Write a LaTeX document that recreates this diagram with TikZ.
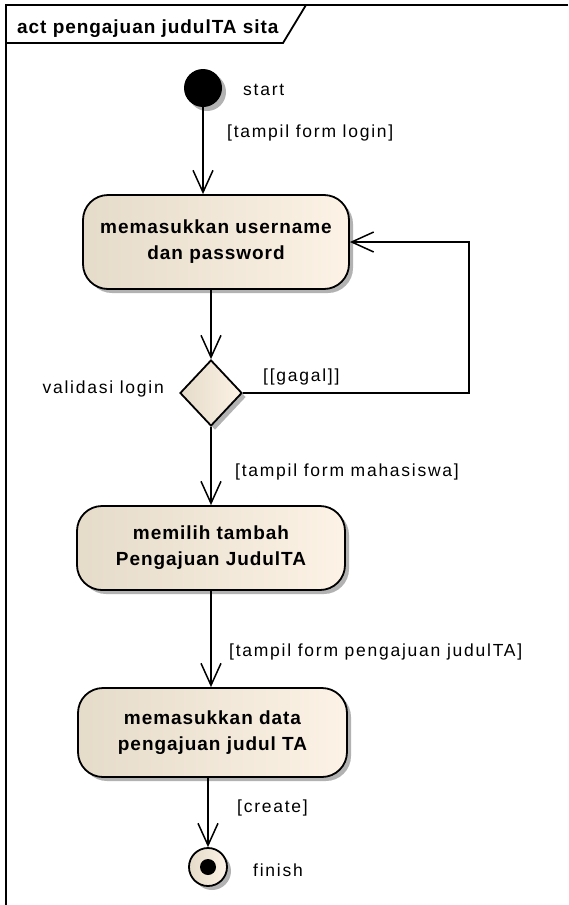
\documentclass[tikz,border=0pt]{standalone}
\usepackage{fontspec}
\setmainfont{Liberation Sans}
\newfontfamily\labelfont[LetterSpace=10]{Liberation Sans}
\newfontfamily\actfont[LetterSpace=5]{Liberation Sans}
\usetikzlibrary{arrows.meta}
\usetikzlibrary{shapes.geometric}
\usetikzlibrary{shadows}
\definecolor{mbeige}{rgb}{0.90, 0.86, 0.79}
\definecolor{mcream}{rgb}{0.99, 0.95, 0.90}
\definecolor{mshadow}{rgb}{0.70, 0.70, 0.70}
\tikzset{
  shade/.style = {drop shadow={shadow xshift=4pt, shadow yshift=-4pt, fill=mshadow, opacity=1}},
  frame/.style = {line width=1.8pt},
  act/.style = {draw, line width=1.8pt, rounded corners=25pt, left color=mbeige, right color=mcream, shade,
    align=center, inner sep=0, font=\actfont\bfseries\fontsize{19}{26}\selectfont},
  decision/.style = {draw, diamond, line width=1.8pt, left color=mbeige, right color=mcream, shade,
    inner sep=0, minimum width=62pt, minimum height=66pt},
  startnode/.style = {fill, circle, inner sep=0, minimum size=38pt, shade},
  finishnode/.style = {draw, circle, line width=1.8pt, inner sep=0, minimum size=38pt, left color=mbeige, right color=mcream, shade},
  lbl/.style = {inner sep=0, font=\labelfont\fontsize{17.5}{20}\selectfont},
  flow/.style = {-{Straight Barb[length=22pt, width=20pt]}, line width=1.5pt}
}

\begin{document}
\begin{tikzpicture}[x=1pt, y=-1pt]
    \useasboundingbox (0,0) rectangle (568,905);
    \draw [frame] (568,5) -- (6,5) -- (6,905);
    \draw [frame] (6,43) -- (283,43) -- (306,5);
    \node [anchor=base west, inner sep=0, font=\actfont\bfseries\fontsize{19}{22}\selectfont] (title) at (17,33) {act pengajuan judulTA sita};

    \node [startnode] (start) at (203,88) {};
    \node [lbl, anchor=base west] (startlbl) at (243,95) {start};
    \node [act, minimum width=266pt, minimum height=94pt] (act1) at (216,242) {memasukkan username\\dan password};
    \node [decision] (dec) at (211,393) {};
    \coordinate (loop) at (469,242);
    \node [act, minimum width=268pt, minimum height=84pt] (act2) at (211,548) {memilih tambah\\Pengajuan JudulTA};
    \node [act, minimum width=269pt, minimum height=89pt] (act3) at (212.5,732.5) {memasukkan data\\pengajuan judul TA};
    \node [finishnode] (fin) at (208,867) {};
    \node [fill, circle, inner sep=0, minimum size=16pt] (findot) at (fin) {};
    \node [lbl, anchor=base west] (finlbl) at (253,876) {finish};

    \draw [flow] (start.south) -- (start |- act1.north);
    \draw [flow] (dec |- act1.south) -- (dec.north);
    \draw [flow] (dec.east) -| (loop) -- (act1.east);
    \draw [flow] (dec.south) -- (dec |- act2.north);
    \draw [flow] (act2.south) -- (act2.south |- act3.north);
    \draw [flow] (fin |- act3.south) -- (fin.north);

    \node [lbl, anchor=base west] (g1) at (227,137) {[tampil form login]};
    \node [lbl, anchor=base west] (g2) at (263,381) {[[gagal]]};
    \node [lbl, anchor=base east] (declbl) at (164,393) {validasi login};
    \node [lbl, anchor=base west] (g3) at (235,476) {[tampil form mahasiswa]};
    \node [lbl, anchor=base west] (g4) at (229,656) {[tampil form pengajuan judulTA]};
    \node [lbl, anchor=base west] (g5) at (237,812) {[create]};
  \end{tikzpicture}
\end{document}
